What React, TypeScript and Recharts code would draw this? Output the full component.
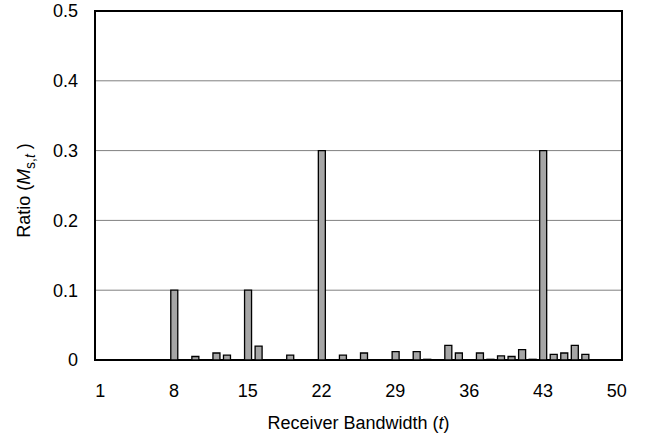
import React from 'react';
import { BarChart, Bar, XAxis, YAxis, CartesianGrid, ReferenceArea, Label } from 'recharts';

const bandwidths = [
  1, 2, 3, 4, 5, 6, 7, 8, 9, 10,
  11, 12, 13, 14, 15, 16, 17, 18, 19, 20,
  21, 22, 23, 24, 25, 26, 27, 28, 29, 30,
  31, 32, 33, 34, 35, 36, 37, 38, 39, 40,
  41, 42, 43, 44, 45, 46, 47, 48, 49, 50,
];

const ratioValues = [
  0, 0, 0, 0, 0, 0, 0, 0.1, 0, 0.005,
  0, 0.01, 0.007, 0, 0.1, 0.02, 0, 0, 0.007, 0,
  0, 0.3, 0, 0.007, 0, 0.01, 0, 0, 0.012, 0,
  0.012, 0.001, 0, 0.021, 0.01, 0, 0.01, 0.001, 0.006, 0.005,
  0.015, 0.001, 0.3, 0.008, 0.01, 0.021, 0.008, 0, 0, 0,
];

const yTicks = [0, 0.1, 0.2, 0.3, 0.4, 0.5];

const data = bandwidths.map((t, i) => ({ t, ratio: ratioValues[i] }));

const FONT = '"Liberation Sans", Arial, sans-serif';

const XTitle = (props: any) => {
  const vb = props.viewBox || {};
  const cx = vb.x + vb.width / 2;
  return (
    <text x={cx} y={vb.y + 69} textAnchor="middle" fontFamily={FONT} fontSize={18} fill="#000">
      Receiver Bandwidth (<tspan fontStyle="italic">t</tspan>)
    </text>
  );
};

const YTitle = (props: any) => {
  const vb = props.viewBox || {};
  const cy = vb.y + vb.height / 2 + 5;
  const x = 30;
  return (
    <text
      x={x}
      y={cy}
      transform={`rotate(-90, ${x}, ${cy})`}
      textAnchor="middle"
      fontFamily={FONT}
      fontSize={18}
      fill="#000"
      xmlSpace="preserve"
    >
      Ratio (<tspan fontStyle="italic" fontSize={19}>M</tspan>
      <tspan fontSize={14} dy={5}>s,</tspan>
      <tspan fontSize={14} fontStyle="italic">t</tspan>
      <tspan dy={-5}> )</tspan>
    </text>
  );
};

export default function App() {
  return (
    <div style={{ position: 'absolute', left: 0, top: 0, width: 657, height: 441, background: '#fff' }}>
      <BarChart
        width={657}
        height={441}
        data={data}
        margin={{ top: 11, right: 35, bottom: 0, left: 0 }}
        barCategoryGap={0}
      >
        <CartesianGrid vertical={false} stroke="#808080" strokeWidth={1} />
        <XAxis
          dataKey="t"
          interval={6}
          height={81}
          axisLine={false}
          tickLine={false}
          tickSize={0}
          tickMargin={24}
          tick={{ fontFamily: FONT, fontSize: 18, fill: '#000' }}
        >
          <Label content={<XTitle />} />
        </XAxis>
        <YAxis
          width={95}
          domain={[0, 0.5]}
          ticks={yTicks}
          interval={0}
          axisLine={false}
          tickLine={false}
          tickSize={0}
          tickMargin={17}
          tickFormatter={(v: number) => (v === 0 ? '0' : v.toFixed(1))}
          tick={{ fontFamily: FONT, fontSize: 18, fill: '#000' }}
        >
          <Label content={<YTitle />} />
        </YAxis>
        <Bar
          dataKey="ratio"
          barSize={7}
          fill="#a6a6a6"
          stroke="#000"
          strokeWidth={1.3}
          isAnimationActive={false}
        />
        <ReferenceArea y1={0} y2={0.5} fill="none" stroke="#000" strokeWidth={2} ifOverflow="visible" />
      </BarChart>
    </div>
  );
}
